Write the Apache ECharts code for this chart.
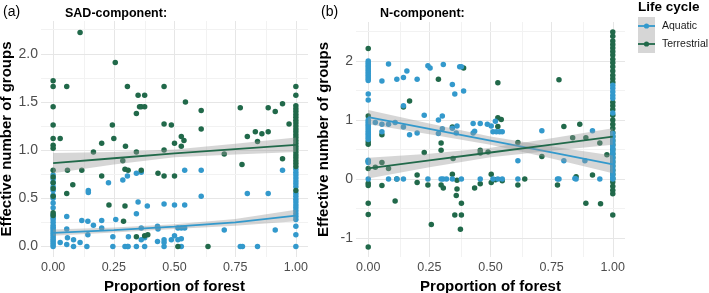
<!DOCTYPE html>
<html lang="en">
<head>
<meta charset="UTF-8" />
<title>Effective number of groups vs proportion of forest</title>
<style>
  html, body { margin: 0; padding: 0; background: #fff; }
  #main { width: 709px; height: 293px; }
</style>
</head>
<body>
<div id="main"></div>
<script src="https://cdn.jsdelivr.net/npm/echarts/dist/echarts.min.js"></script>
<script>
// ---- data ----
var lifeCycles = ['Aquatic', 'Terrestrial'];
var xTicks = [0, 0.25, 0.5, 0.75, 1];
var sadTicks = [0, 0.5, 1, 1.5, 2];
var nTicks = [-1, 0, 1, 2];

// (a) SAD-component
var sadAquatic = [
  [0.228,0.66],[0.145,0.58],[0.145,0.56],[0.287,0.69],[0.306,0.73],[0.056,0.31],[0.118,0.27],[0.143,0.26],
  [0.2,0.27],[0.258,0.28],[0.166,0.22],[0.056,0.18],[0.2,0.19],[0.143,0.12],[0.084,0.07],[0.059,0.09],
  [0.029,0.04],[0.111,0.04],[0.084,0],[0.056,0.02],[0.139,0],[0.246,0],[0.246,0.1],[0.296,0],[0.306,0],
  [0.31,0.1],[0.343,0.76],[0.363,0.77],[0.542,0.79],[0.61,0.79],[0.61,0.52],[0.35,0.46],[0.388,0.42],
  [0.457,0.44],[0.5,0.43],[0.542,0.43],[0.343,0.34],[0.363,0.19],[0.43,0.21],[0.432,0.18],[0.514,0.19],
  [0.528,0.19],[0.542,0.19],[0.363,0.07],[0.377,0.09],[0.43,0.05],[0.457,0.07],[0.457,0.04],[0.487,0.07],
  [0.5,0.11],[0.514,0.07],[0.528,0.08],[0.309,0],[0.343,0],[0.377,0],[0.457,0],[0.528,0],
  [0.945,0.79],[0.8,0.55],[0.886,0.55],[0.705,0.17],[0.915,0.17],[0.771,0],[0.78,0],[0.842,0]
];
var sadAquaticAtZero = [0.74,0.70,0.66,0.62,0.58,0.53,0.50,0.45,0.40,0.33,0.30,0.28,0.25,0.22,0.20,0.18,0.16,0.14,0.12,0.10,0.08,0.06,0.04,0.02,0];
var sadAquaticAtOne = [0.80,0.77,0.74,0.71,0.68,0.65,0.62,0.55,0.52,0.49,0.46,0.43,0.40,0.37,0.34,0.31,0.28,0.21,0.12,0];
var sadTerrestrial = [
  [0.111,2.22],[0.256,1.91],[0.056,1.66],[0.029,1.12],[0.244,1.26],[0.25,1.12],[0.2,1.07],[0.166,0.98],
  [0.306,1.66],[0.298,1.04],[0.287,0.89],[0.059,0.79],[0.118,0.79],[0.2,0.73],[0.081,0.64],[0.056,0.55],
  [0.23,0.43],[0.296,0.8],[0.296,0.42],[0.29,0.26],[0.35,1.57],[0.377,1.57],[0.457,1.66],[0.363,1.45],
  [0.377,1.45],[0.356,1.45],[0.343,1.38],[0.545,1.5],[0.61,1.41],[0.457,1.27],[0.487,1.26],[0.61,1.22],
  [0.528,1.14],[0.539,1.1],[0.528,1.04],[0.5,1.07],[0.343,0.98],[0.457,1.0],[0.309,0.79],[0.363,0.79],
  [0.432,0.76],[0.457,0.73],[0.5,0.73],[0.343,0.1],[0.39,0.12],[0.377,0.11],[0.514,0],[0.638,0],
  [0.771,1.44],[0.886,1.44],[0.915,1.4],[0.945,1.48],[0.972,1.27],[0.8,1.14],[0.833,1.19],[0.86,1.17],
  [0.886,1.19],[0.842,1.09],[0.705,0.96],[0.778,0.85],[0.945,0.91]
];
var sadTerrestrialAtZero = [1.72,1.66,1.45,1.26,1.12,1.05,1.02,0.79,0.72,0.66,0.60,0.52,0.35,0.32];
var sadTerrestrialAtOne = [1.66,1.57,1.46,1.43,1.40,1.37,1.34,1.31,1.28,1.25,1.22,1.19,1.16,1.13,1.10,1.07,1.04,1.01,0.98,0.95,0.92,0.89,0.86,0.83,0.58];

// (b) N-component
var nAquatic = [
  [0.083,1.95],[0.056,1.66],[0.117,1.69],[0.144,1.72],[0.158,1.83],[0.2,1.69],[0.244,1.92],[0.253,1.88],
  [0.307,1.94],[0.144,1.24],[0.229,1.08],[0.029,0.96],[0.056,0.93],[0.083,0.93],[0.11,0.96],[0.056,0.8],
  [0.144,0.88],[0.169,0.75],[0.2,0.78],[0.287,1.0],[0.303,1.07],[0.287,0.77],[0.303,0.85],[0.083,0],
  [0.117,0],[0.144,0],[0.244,0],[0.298,0],[0.374,1.9],[0.381,1.9],[0.344,1.6],[0.354,1.44],[0.39,1.49],
  [0.344,0.86],[0.36,0.78],[0.363,0.9],[0.429,0.94],[0.458,0.94],[0.487,0.93],[0.503,0.9],[0.52,0.98],
  [0.429,0.78],[0.435,0.81],[0.51,0.8],[0.524,0.8],[0.537,0.8],[0.548,0.8],[0.612,0.31],[0.306,0],
  [0.32,0],[0.344,0],[0.381,0],[0.458,0],[0.51,0],[0.53,0],[0.548,0],[0.612,0],[0.71,0.82],[0.917,0.82],
  [0.8,0.31],[0.886,0.31],[0.774,0],[0.78,0],[0.845,0.01],[0.85,0],[0.947,0]
];
var nAquaticAtZero = [2.0,1.97,1.94,1.91,1.88,1.85,1.82,1.79,1.76,1.73,1.70,1.67,1.44,1.34,1.0,0.97,0.94,0.91,0.88,0.85,0.82,0.79,0.76,0.73,0.70,0.67,0.32,0.28,0];
var nAquaticAtOne = [1.59,1.54,1.48,1.42,1.37,1.12,0.77,0.72,0.67,0.62,0.57,0.52,0.47,0.42,0.37,0.32,0.27,0.22,0.17,0.12,0.07,0.02,0];
var nTerrestrial = [
  [0.144,1.22],[0.169,1.32],[0.056,0.75],[0.056,0.28],[0.029,0.2],[0.083,0.18],[0.229,0.45],[0.287,1.69],
  [0.298,0.49],[0.298,0.61],[0.2,0.07],[0.2,-0.06],[0.244,-0.1],[0.056,-0.11],[0.117,0],[0.11,-0.37],
  [0.258,-0.77],[0.298,-0.1],[0.307,-0.15],[0.39,1.88],[0.53,1.63],[0.53,1.04],[0.544,1.01],[0.344,0.88],
  [0.53,0.89],[0.347,0.35],[0.458,0.49],[0.458,0.44],[0.49,0.46],[0.612,0.62],[0.344,0.08],[0.363,-0.02],
  [0.363,-0.17],[0.36,-0.28],[0.381,-0.41],[0.354,-0.61],[0.381,-0.61],[0.377,-0.85],[0.435,-0.15],
  [0.458,-0.08],[0.503,0.08],[0.503,-0.06],[0.52,-0.01],[0.548,-0.03],[0.612,-0.1],[0.64,0],
  [0.78,1.68],[0.8,0.89],[0.865,0.93],[0.836,0.7],[0.89,0.7],[0.947,0.61],[0.976,0.41],[0.71,0.38],
  [0.85,0.04],[0.917,0.07],[0.774,-0.1],[0.89,-0.41],[0.95,-0.42]
];
var nTerrestrialAtZero = [2.21,1.07,0.63,0.59,0.30,0.18,-0.07,-0.11,-0.41,-0.60,-1.15];
var nTerrestrialAtOne = [2.49,2.42,2.34,2.28,2.22,2.16,2.10,2.03,1.97,1.90,1.83,1.76,1.70,1.64,1.30,1.24,1.18,
  1.08,1.0,0.93,0.86,0.79,0.72,0.65,0.58,0.5,0.43,0.36,0.29,0.22,0.15,0.08,0.01,-0.05,-0.12,-0.19,-0.25,-0.61];

// fitted lines and 95% bands
var fitX = [0, 0.25, 0.5, 0.75, 1];
var sadAquaticFit = [0.14, 0.17, 0.205, 0.25, 0.32];
var sadAquaticLo = [0.11, 0.145, 0.18, 0.215, 0.26];
var sadAquaticHi = [0.175, 0.195, 0.23, 0.285, 0.38];
var sadTerrestrialFit = [0.865, 0.915, 0.965, 1.01, 1.055];
var sadTerrestrialLo = [0.76, 0.85, 0.925, 0.955, 0.98];
var sadTerrestrialHi = [0.97, 0.98, 1.005, 1.065, 1.13];
var nAquaticFit = [1.05, 0.85, 0.65, 0.45, 0.25];
var nAquaticLo = [0.93, 0.76, 0.58, 0.35, 0.1];
var nAquaticHi = [1.17, 0.94, 0.72, 0.55, 0.4];
var nTerrestrialFit = [0.18, 0.315, 0.45, 0.585, 0.72];
var nTerrestrialLo = [0.01, 0.2, 0.37, 0.48, 0.58];
var nTerrestrialHi = [0.36, 0.43, 0.53, 0.69, 0.86];

// ---- styling ----
var FONT = 'Liberation Sans, Arial, Helvetica, sans-serif';
var BLUE = '#3399CC';
var GREEN = '#21694A';
var BAND = 'rgba(153,153,153,0.4)';

function column(x, ys) {
  return ys.map(function (y) { return [x, y]; });
}

function midpoints(t) {
  var out = [];
  for (var i = 0; i < t.length - 1; i++) out.push((t[i] + t[i + 1]) / 2);
  return out;
}

function gridMarks(yTicks, yMinorExtra) {
  var major = { color: '#E6E6E6', width: 1, type: 'solid' };
  var minor = { color: '#F2F2F2', width: 1, type: 'solid' };
  var d = [];
  xTicks.forEach(function (v) { d.push({ xAxis: v, lineStyle: major }); });
  midpoints(xTicks).forEach(function (v) { d.push({ xAxis: v, lineStyle: minor }); });
  yTicks.forEach(function (v) { d.push({ yAxis: v, lineStyle: major }); });
  midpoints(yTicks).concat(yMinorExtra).forEach(function (v) { d.push({ yAxis: v, lineStyle: minor }); });
  return {
    silent: true, symbol: ['none', 'none'], z: 1, animation: false,
    label: { show: false }, emphasis: { disabled: true }, data: d
  };
}

function points(g, name, data, color, z, marks) {
  var s = {
    name: name, type: 'scatter', xAxisIndex: g, yAxisIndex: g, data: data,
    symbolSize: 5.5, itemStyle: { color: color, opacity: 1 }, z: z, silent: true
  };
  if (marks) s.markLine = marks;
  return s;
}

function band(g, lo, hi, z) {
  return {
    type: 'custom', xAxisIndex: g, yAxisIndex: g, z: z, silent: true,
    data: fitX.map(function (x, i) { return [x, lo[i], hi[i]]; }),
    encode: { x: 0, y: [1, 2] },
    renderItem: function (params, api) {
      if (params.dataIndex !== 0) return null;
      var pts = [];
      for (var i = 0; i < fitX.length; i++) pts.push(api.coord([fitX[i], hi[i]]));
      for (var j = fitX.length - 1; j >= 0; j--) pts.push(api.coord([fitX[j], lo[j]]));
      return { type: 'polygon', shape: { points: pts }, style: { fill: BAND } };
    }
  };
}

function fitLine(g, name, fit, color, z) {
  return {
    name: name, type: 'line', xAxisIndex: g, yAxisIndex: g, z: z, silent: true,
    data: fitX.map(function (x, i) { return [x, fit[i]]; }),
    showSymbol: false, lineStyle: { color: color, width: 1.8 }
  };
}

function xAxis(g) {
  return {
    gridIndex: g, type: 'value', min: -0.05, max: 1.05,
    axisLine: { show: false, onZero: false }, axisTick: { show: false }, splitLine: { show: false },
    axisLabel: {
      customValues: xTicks, formatter: function (v) { return v.toFixed(2); },
      color: '#4D4D4D', fontSize: 12.5, fontFamily: FONT, margin: 4
    },
    name: 'Proportion of forest', nameLocation: 'middle', nameGap: 15,
    nameTextStyle: { fontFamily: FONT, fontWeight: 'bold', fontSize: 15, color: '#000' }
  };
}

function yAxis(g, min, max, ticks, digits) {
  return {
    gridIndex: g, type: 'value', min: min, max: max,
    axisLine: { show: false, onZero: false }, axisTick: { show: false }, splitLine: { show: false },
    axisLabel: {
      customValues: ticks, formatter: function (v) { return v.toFixed(digits); },
      color: '#4D4D4D', fontSize: 14, fontFamily: FONT, margin: 3
    },
    name: 'Effective number of groups', nameLocation: 'middle', nameGap: 25,
    nameTextStyle: { fontFamily: FONT, fontWeight: 'bold', fontSize: 15, color: '#000' }
  };
}

var legendItems = [];
legendItems.push({
  type: 'text', x: 638, y: 0,
  style: { text: 'Life cycle', font: 'bold 13.5px ' + FONT, fill: '#000' }
});
lifeCycles.forEach(function (name, i) {
  var c = i === 0 ? BLUE : GREEN;
  legendItems.push({
    type: 'group', x: 638, y: 17 + 18 * i,
    children: [
      { type: 'rect', shape: { x: 0, y: 0, width: 17, height: 18 }, style: { fill: '#D6D6D6' } },
      { type: 'line', shape: { x1: 0, y1: 9, x2: 17, y2: 9 }, style: { stroke: c, lineWidth: 1.8 } },
      { type: 'circle', shape: { cx: 8.5, cy: 9, r: 2.6 }, style: { fill: c } },
      { type: 'text', x: 24, y: 9, style: { text: name, font: '10.5px ' + FONT, fill: '#1A1A1A', verticalAlign: 'middle' } }
    ]
  });
});

var option = {
  animation: false,
  backgroundColor: '#fff',
  textStyle: { fontFamily: FONT },
  title: [
    { text: '(a)', left: 3, top: 5, padding: 0, textStyle: { fontSize: 14, fontWeight: 'normal', color: '#000', fontFamily: FONT } },
    { text: 'SAD-component:', left: 65, top: 7, padding: 0, textStyle: { fontSize: 12.5, fontWeight: 'bold', color: '#000', fontFamily: FONT } },
    { text: '(b)', left: 321, top: 5, padding: 0, textStyle: { fontSize: 14, fontWeight: 'normal', color: '#000', fontFamily: FONT } },
    { text: 'N-component:', left: 380, top: 7, padding: 0, textStyle: { fontSize: 12.5, fontWeight: 'bold', color: '#000', fontFamily: FONT } }
  ],
  grid: [
    { left: 41, top: 21, width: 267, height: 236, outerBoundsMode: 'none', containLabel: false },
    { left: 356, top: 22, width: 269, height: 235, outerBoundsMode: 'none', containLabel: false }
  ],
  xAxis: [xAxis(0), xAxis(1)],
  yAxis: [yAxis(0, -0.11, 2.34, sadTicks, 1), yAxis(1, -1.32, 2.66, nTicks, 0)],
  graphic: legendItems,
  series: [
    points(0, lifeCycles[0], sadAquatic.concat(column(0, sadAquaticAtZero), column(1, sadAquaticAtOne)), BLUE, 2, gridMarks(sadTicks, [2.25])),
    points(0, lifeCycles[1], sadTerrestrial.concat(column(0, sadTerrestrialAtZero), column(1, sadTerrestrialAtOne)), GREEN, 2),
    band(0, sadAquaticLo, sadAquaticHi, 3),
    fitLine(0, lifeCycles[0], sadAquaticFit, BLUE, 4),
    band(0, sadTerrestrialLo, sadTerrestrialHi, 5),
    fitLine(0, lifeCycles[1], sadTerrestrialFit, GREEN, 6),

    points(1, lifeCycles[1], nTerrestrial.concat(column(0, nTerrestrialAtZero), column(1, nTerrestrialAtOne)), GREEN, 2, gridMarks(nTicks, [2.5])),
    points(1, lifeCycles[0], nAquatic.concat(column(0, nAquaticAtZero), column(1, nAquaticAtOne)), BLUE, 2),
    band(1, nAquaticLo, nAquaticHi, 3),
    fitLine(1, lifeCycles[0], nAquaticFit, BLUE, 4),
    band(1, nTerrestrialLo, nTerrestrialHi, 5),
    fitLine(1, lifeCycles[1], nTerrestrialFit, GREEN, 6)
  ]
};

var chart = echarts.init(document.getElementById('main'), null, { renderer: 'canvas' });
chart.setOption(option);
</script>
</body>
</html>
